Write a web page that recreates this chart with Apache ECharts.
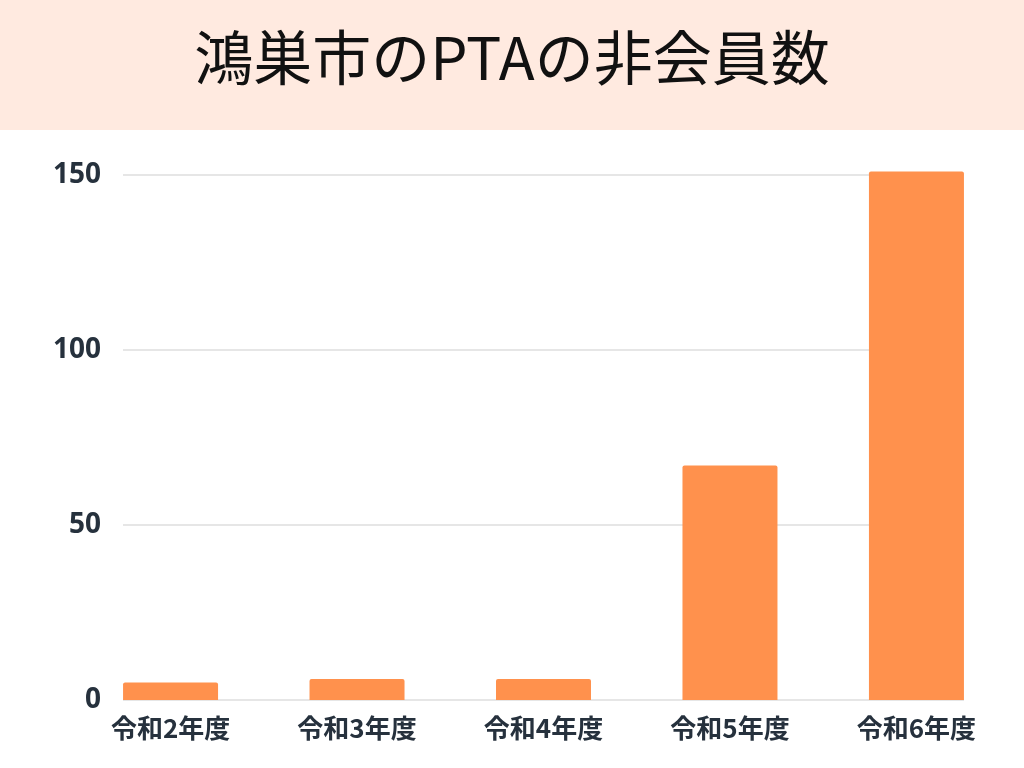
<!DOCTYPE html>
<html>
<head>
<meta charset="utf-8">
<script src="https://cdn.jsdelivr.net/npm/echarts@6/dist/echarts.min.js"></script>
<style>
  html, body { margin: 0; padding: 0; background: #ffffff; }
  #chart { width: 1024px; height: 768px; }
</style>
</head>
<body>
<div id="chart"></div>
<script>
const titleText = '鴻巣市のPTAの非会員数';
const categories = ['令和2年度', '令和3年度', '令和4年度', '令和5年度', '令和6年度'];
const values = [5, 6, 6, 67, 151];
const yTicks = [0, 50, 100, 150];

const chart = echarts.init(document.getElementById('chart'));

// bars sit on index positions of a value axis so the grid can end at the outer bar edges
const halfBar = 0.255;

chart.setOption({
  backgroundColor: '#ffffff',
  animation: false,
  graphic: [
    {
      type: 'rect',
      left: 0,
      top: 0,
      shape: { width: 1024, height: 130 },
      style: { fill: '#FFEAE0' },
      z: 0
    },
    {
      type: 'text',
      left: 'center',
      top: 28,
      style: {
        text: titleText,
        fill: '#111111',
        font: '400 59px "Noto Sans CJK JP", sans-serif'
      },
      z: 1
    }
  ],
  grid: { left: 123, right: 60, top: 175, bottom: 68 },
  xAxis: {
    type: 'value',
    min: -halfBar,
    max: categories.length - 1 + halfBar,
    splitLine: { show: false },
    axisLine: { show: false },
    axisTick: { show: false },
    axisLabel: {
      customValues: categories.map((_, i) => i),
      formatter: v => categories[Math.round(v)] || '',
      margin: 15,
      color: '#26313d',
      fontSize: 26,
      fontWeight: 'bold',
      fontFamily: '"Noto Sans CJK JP", sans-serif'
    }
  },
  yAxis: {
    type: 'value',
    min: 0,
    max: 150,
    interval: 50,
    axisLine: { show: false },
    axisTick: { show: false },
    splitLine: { lineStyle: { color: '#dedede', width: 1.5 } },
    axisLabel: {
      customValues: yTicks,
      margin: 22,
      color: '#26313d',
      fontSize: 28,
      fontWeight: 'bold',
      fontFamily: '"Open Sans", "Noto Sans", sans-serif'
    }
  },
  series: [
    {
      type: 'bar',
      clip: false,
      barWidth: 95,
      data: values.map((v, i) => [i, v]),
      itemStyle: { color: '#FF914D', borderRadius: [2, 2, 0, 0] }
    }
  ]
});
</script>
</body>
</html>
